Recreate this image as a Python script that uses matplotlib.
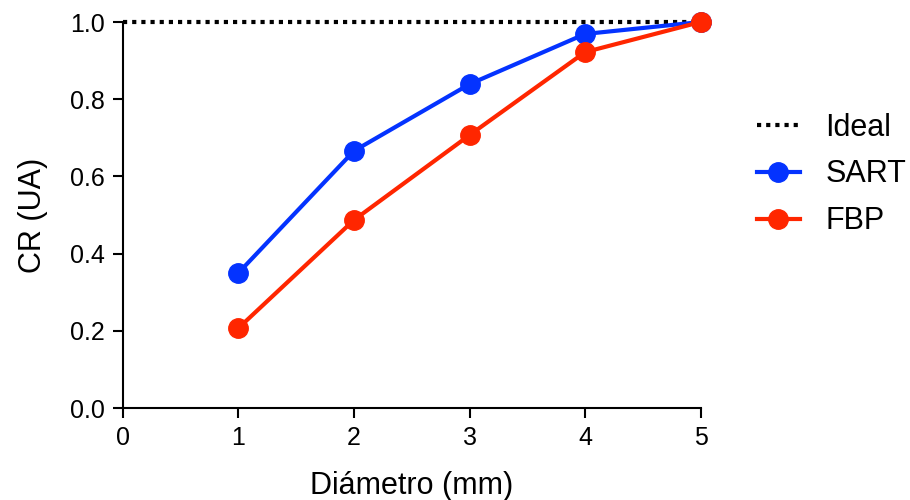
import matplotlib
matplotlib.use("Agg")
import matplotlib.pyplot as plt

plt.rcParams['font.family'] = ['Liberation Sans', 'DejaVu Sans']

# data
diametro = [1, 2, 3, 4, 5]
sart = [0.350, 0.666, 0.839, 0.969, 1.0]
fbp = [0.207, 0.487, 0.707, 0.922, 1.0]
ideal_x = [0, 5]
ideal_y = [1.0, 1.0]

xticks = [0, 1, 2, 3, 4, 5]
yticks = [0.0, 0.2, 0.4, 0.6, 0.8, 1.0]

blue = '#0433FF'
red = '#FF2600'

fig = plt.figure(figsize=(9.1, 5.0), dpi=100)
ax = fig.add_axes([0.135, 0.184, 0.635, 0.772])

ax.plot(ideal_x, ideal_y, color='black', lw=3, linestyle=(0, (1, 1.2)),
        label='Ideal', clip_on=False, zorder=2)
ax.plot(diametro, sart, color=blue, lw=3, marker='o', ms=14,
        label='SART', clip_on=False, zorder=3)
ax.plot(diametro, fbp, color=red, lw=3, marker='o', ms=14,
        label='FBP', clip_on=False, zorder=4)

ax.set_xlim(0, 5)
ax.set_ylim(0, 1.0)
ax.set_xticks(xticks)
ax.set_yticks(yticks)
ax.set_yticklabels(['%.1f' % v for v in yticks])

for side in ['top', 'right']:
    ax.spines[side].set_visible(False)
for side in ['left', 'bottom']:
    ax.spines[side].set_linewidth(1.5)
ax.tick_params(direction='out', length=7, width=1.5, labelsize=18, pad=6)

ax.set_xlabel('Diámetro (mm)', fontsize=22, labelpad=15)
ax.set_ylabel('CR (UA)', fontsize=22, labelpad=16)

ax.legend(loc='center left', bbox_to_anchor=(1.097, 0.605), frameon=False,
          fontsize=22, handlelength=1.4, labelspacing=0.55, handletextpad=0.85,
          borderpad=0, borderaxespad=0)

fig.savefig('out.png', dpi=100)
